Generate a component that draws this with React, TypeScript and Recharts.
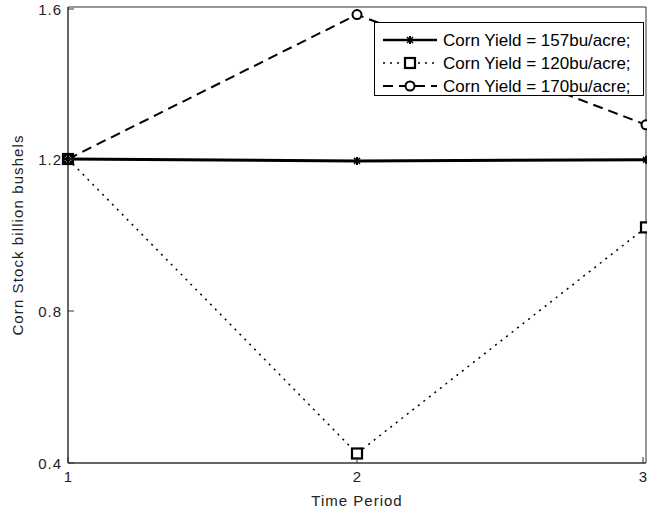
import type { FC } from 'react';
import { Label, Line, LineChart, ReferenceArea, XAxis, YAxis } from 'recharts';

const periods = [1, 2, 3];
const yield157 = [1.2, 1.195, 1.198];
const yield120 = [1.2, 0.425, 1.02];
const yield170 = [1.2, 1.58, 1.29];

const xTicks = [1, 2, 3];
const yTicks = [0.4, 0.8, 1.2, 1.6];

const seriesNames = ['Corn Yield = 157bu/acre;', 'Corn Yield = 120bu/acre;', 'Corn Yield = 170bu/acre;'];

const data = periods.map((p, i) => ({
	period: p,
	y157: yield157[i],
	y120: yield120[i],
	y170: yield170[i]
}));

const FONT = '"Liberation Sans", Arial, sans-serif';

const StarDot: FC<any> = ({ cx, cy }) => {
	if (cx == null || cy == null) return null;
	return (
		<g stroke='#000' strokeWidth={2}>
			<line x1={cx - 4} y1={cy} x2={cx + 4} y2={cy} />
			<line x1={cx} y1={cy - 4} x2={cx} y2={cy + 4} />
			<line x1={cx - 3} y1={cy - 3} x2={cx + 3} y2={cy + 3} strokeWidth={1.5} />
			<line x1={cx - 3} y1={cy + 3} x2={cx + 3} y2={cy - 3} strokeWidth={1.5} />
		</g>
	);
};

const SquareDot: FC<any> = ({ cx, cy }) => {
	if (cx == null || cy == null) return null;
	return <rect x={cx - 5} y={cy - 5} width={10} height={10} fill='#fff' stroke='#000' strokeWidth={2.2} />;
};

const CircleDot: FC<any> = ({ cx, cy }) => {
	if (cx == null || cy == null) return null;
	return <circle cx={cx} cy={cy} r={4.5} fill='#fff' stroke='#000' strokeWidth={2} />;
};

// MATLAB style: labels outside, tick marks pointing into the axes
const YTick: FC<any> = ({ x, y, payload }) => (
	<g>
		<line x1={x + 5} y1={y} x2={x + 11} y2={y} stroke='#333' />
		<text x={x - 1} y={y} dy={5.5} textAnchor='end' fontSize={15} letterSpacing={1} fontFamily={FONT} fill='#222'>
			{Number(payload.value).toFixed(1)}
		</text>
	</g>
);

const XTick: FC<any> = ({ x, y, payload }) => (
	<g>
		<line x1={x} y1={y - 4} x2={x} y2={y - 10} stroke='#333' />
		<text x={x} y={y} dy={15} textAnchor='middle' fontSize={15} fontFamily={FONT} fill='#222'>
			{payload.value}
		</text>
	</g>
);

const legendStyles = [
	{ dash: undefined, width: 2.5, Dot: StarDot },
	{ dash: '2 5', width: 1.5, Dot: SquareDot },
	{ dash: '10 6', width: 2, Dot: CircleDot }
];

const LegendBox: FC = () => (
	<svg width={270} height={74} style={{ display: 'block' }}>
		<rect x={0.5} y={0.5} width={269} height={73} fill='#fff' stroke='#000' />
		{seriesNames.map((name, i) => {
			const cy = 18 + i * 23;
			const { dash, width, Dot } = legendStyles[i];
			return (
				<g key={name}>
					<line x1={9} y1={cy} x2={63} y2={cy} stroke='#000' strokeWidth={width} strokeDasharray={dash} />
					<Dot cx={36} cy={cy} />
					<text x={69} y={cy} dy={6} fontSize={17} fontFamily={FONT} fill='#000'>
						{name}
					</text>
				</g>
			);
		})}
	</svg>
);

const App: FC = () => (
	<div style={{ position: 'relative', width: 647, height: 514 }}>
		<style>{'body{margin:0}'}</style>
		<LineChart width={647} height={514} data={data} margin={{ top: 7, right: 1, bottom: 0, left: 0 }}>
			<ReferenceArea x1={1} x2={3} y1={0.4} y2={1.6} fill='none' stroke='#333' strokeWidth={1} ifOverflow='visible' />
			<XAxis
				dataKey='period'
				type='number'
				domain={[1, 3]}
				ticks={xTicks}
				height={51}
				stroke='#333'
				tickSize={0}
				tickMargin={4}
				tick={<XTick />}
			>
				<Label
					value='Time Period'
					position='insideBottom'
					offset={8}
					fontSize={15}
					letterSpacing={1}
					fontFamily={FONT}
					fill='#222'
				/>
			</XAxis>
			<YAxis
				type='number'
				domain={[0.4, 1.6]}
				ticks={yTicks}
				width={68}
				stroke='#333'
				tickSize={0}
				tickMargin={5}
				tick={<YTick />}
			>
				<Label
					value='Corn Stock billion bushels'
					angle={-90}
					position='insideLeft'
					offset={18}
					style={{ textAnchor: 'middle' }}
					fontSize={15}
					letterSpacing={1.1}
					fontFamily={FONT}
					fill='#222'
				/>
			</YAxis>
			<Line dataKey='y120' stroke='#000' strokeWidth={1.5} strokeDasharray='2 5' dot={<SquareDot />} isAnimationActive={false} />
			<Line dataKey='y170' stroke='#000' strokeWidth={2} strokeDasharray='10 6' dot={<CircleDot />} isAnimationActive={false} />
			<Line dataKey='y157' stroke='#000' strokeWidth={3} dot={<StarDot />} isAnimationActive={false} />
		</LineChart>
		<div style={{ position: 'absolute', left: 374, top: 22 }}>
			<LegendBox />
		</div>
	</div>
);

export default App;
